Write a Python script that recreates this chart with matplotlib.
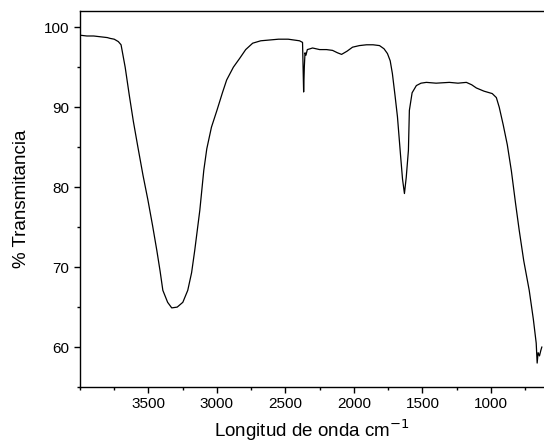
import matplotlib
matplotlib.use("Agg")
import matplotlib.pyplot as plt
from matplotlib.ticker import MultipleLocator

plt.rcParams["font.family"] = ["Liberation Sans", "DejaVu Sans"]

# Espectro IR (número de onda, % transmitancia)
wavenumber = [
    4000, 3950, 3900, 3850, 3800, 3780, 3750, 3720, 3700, 3670, 3640, 3610,
    3577, 3540, 3504, 3470, 3439, 3415, 3395, 3360, 3330, 3290, 3249, 3213,
    3185, 3162, 3125, 3096, 3074, 3040, 3000, 2960, 2929, 2880, 2834, 2790,
    2739, 2680, 2615, 2550, 2480, 2397, 2375, 2367, 2362, 2357, 2350, 2340,
    2320, 2302, 2250, 2200, 2156, 2120, 2090, 2050, 2010, 1960, 1908, 1860,
    1813, 1780, 1755, 1735, 1719, 1700, 1682, 1660, 1645, 1631, 1618, 1602,
    1595, 1575, 1544, 1510, 1471, 1400, 1303, 1240, 1179, 1140, 1106, 1050,
    990, 960, 939, 910, 880, 850, 820, 793, 760, 720, 690, 669, 662, 655,
    645, 635, 628,
]
transmittance = [
    99.0, 98.9, 98.9, 98.8, 98.7, 98.6, 98.5, 98.2, 97.8, 95.0, 91.5, 88.2,
    85.0, 81.5, 78.4, 75.2, 72.1, 69.5, 67.1, 65.6, 64.9, 65.0, 65.6, 67.1,
    69.3, 72.1, 77.1, 82.1, 84.8, 87.5, 89.6, 91.8, 93.4, 95.0, 96.1, 97.2,
    98.0, 98.3, 98.4, 98.5, 98.5, 98.3, 98.1, 91.9, 95.0, 96.8, 96.5, 97.2,
    97.3, 97.4, 97.2, 97.2, 97.1, 96.8, 96.6, 97.0, 97.5, 97.7, 97.8, 97.8,
    97.7, 97.3, 96.7, 95.8, 94.2, 91.5, 88.8, 84.1, 81.0, 79.2, 81.2, 84.6,
    89.6, 91.8, 92.7, 93.0, 93.1, 93.0, 93.1, 93.0, 93.1, 92.8, 92.4, 92.0,
    91.7, 91.2, 90.0, 87.8, 85.3, 82.0, 78.0, 74.6, 70.8, 67.1, 63.5, 60.5,
    58.0, 59.3, 58.9, 59.6, 60.0,
]

xticks = [3500, 3000, 2500, 2000, 1500, 1000]
yticks = [60, 70, 80, 90, 100]

fig = plt.figure(figsize=(5.44, 4.48), dpi=100)
ax = fig.add_axes([0.147, 0.136, 0.851, 0.839])
ax.plot(wavenumber, transmittance, color="black", lw=0.9)

ax.set_xlim(4000, 620)
ax.set_ylim(55, 102)
ax.set_xticks(xticks)
ax.set_yticks(yticks)
ax.xaxis.set_minor_locator(MultipleLocator(250))
ax.yaxis.set_minor_locator(MultipleLocator(5))
ax.tick_params(which="major", direction="out", length=4, width=1, labelsize=11)
ax.tick_params(which="minor", direction="out", length=2.5, width=1)
ax.tick_params(top=False, right=False, which="both")
ax.spines["right"].set_visible(False)
for s in ("left", "bottom", "top"):
    ax.spines[s].set_linewidth(1.0)

ax.set_xlabel("Longitud de onda cm$^{-1}$", fontsize=13.5, labelpad=4)
ax.set_ylabel("% Transmitancia", fontsize=13.5, labelpad=10)

fig.savefig("out.png", dpi=100)
